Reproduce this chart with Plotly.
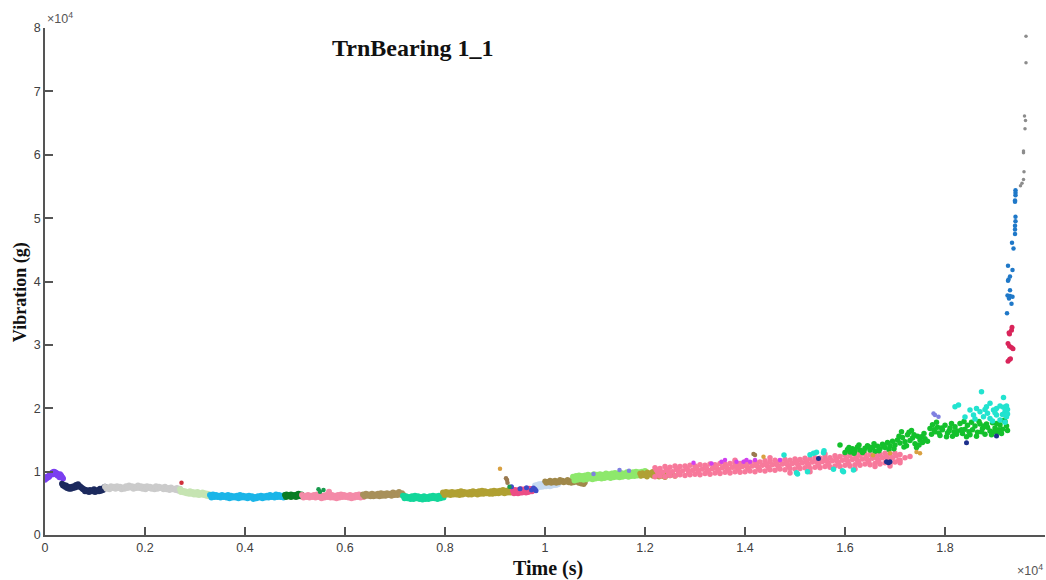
import plotly.graph_objects as go

# ---------------- data (time in s, vibration in g) ----------------
PURPLE_X = [0, 20, 40, 60, 80, 100, 120, 140, 160, 180, 200, 220, 240, 260, 280, 300, 320, 340, 360,
            10, 50, 90, 130, 170, 210, 250, 290, 330]
PURPLE_Y = [8700, 8900, 9000, 9100, 9200, 9400, 9600, 9800, 9900, 10000, 9900, 9800, 9700, 9500, 9300, 9600, 9400, 9100, 8900,
            9100, 9200, 9500, 9700, 9600, 9700, 9400, 9100, 9200]

NAVY_X = [340, 380, 420, 460, 500, 540, 580, 620, 660, 700, 740, 780, 820, 860, 900, 940, 980, 1020, 1060, 1100, 1140, 1180, 1200,
          360, 400, 440, 480, 520, 560, 600, 640, 680, 720, 760, 800, 840, 880, 920, 960, 1000, 1040, 1080, 1120, 1160]
NAVY_Y = [8100, 7900, 7800, 7600, 7500, 7600, 7700, 7900, 8000, 7700, 7400, 7200, 7100, 7000, 7100, 7000, 7200, 7000, 7100, 7300, 7200, 7500, 7600,
          7800, 7600, 7400, 7300, 7300, 7400, 7500, 7600, 7700, 7500, 7200, 6900, 6900, 6800, 6900, 6900, 6800, 6900, 6900, 7000, 7100]

GRAY_X = [1200, 1260, 1320, 1380, 1440, 1500, 1560, 1620, 1680, 1740, 1800, 1860, 1920, 1980, 2040, 2100, 2160, 2220, 2280, 2340, 2400, 2460, 2520, 2580, 2640, 2700,
          1230, 1290, 1350, 1410, 1470, 1530, 1590, 1650, 1710, 1770, 1830, 1890, 1950, 2010, 2070, 2130, 2190, 2250, 2310, 2370, 2430, 2490, 2550, 2610, 2670]
GRAY_Y = [7600, 7500, 7700, 7600, 7700, 7600, 7500, 7700, 7800, 7700, 7600, 7800, 7700, 7600, 7700, 7600, 7500, 7700, 7600, 7500, 7600, 7400, 7500, 7300, 7400, 7300,
          7300, 7200, 7400, 7300, 7400, 7200, 7300, 7400, 7500, 7300, 7400, 7400, 7300, 7200, 7400, 7300, 7200, 7300, 7400, 7200, 7200, 7100, 7200, 7100, 7000]

PALEGREEN_X = [2700, 2750, 2800, 2850, 2900, 2950, 3000, 3050, 3100, 3150, 3200, 3250, 3300,
               2720, 2780, 2830, 2880, 2930, 2980, 3030, 3080, 3130, 3180, 3230, 3280]
PALEGREEN_Y = [7200, 7000, 6900, 6800, 6900, 6800, 6700, 6800, 6600, 6700, 6600, 6500, 6400,
               6800, 6700, 6600, 6500, 6500, 6400, 6400, 6300, 6400, 6300, 6200, 6100]

SKY_X = [3300, 3360, 3420, 3480, 3540, 3600, 3660, 3720, 3780, 3840, 3900, 3960, 4020, 4080, 4140, 4200, 4260, 4320, 4380, 4440, 4500, 4560, 4620, 4680, 4740, 4800,
         3330, 3390, 3450, 3510, 3570, 3630, 3690, 3750, 3810, 3870, 3930, 3990, 4050, 4110, 4170, 4230, 4290, 4350, 4410, 4470, 4530, 4590, 4650, 4710, 4770]
SKY_Y = [6300, 6400, 6300, 6200, 6300, 6200, 6300, 6200, 6100, 6200, 6300, 6200, 6100, 6200, 6100, 6000, 6100, 6200, 6100, 6200, 6300, 6200, 6400, 6300, 6200, 6300,
         5900, 6000, 6000, 5900, 6000, 5900, 5800, 5900, 5900, 5800, 5900, 5900, 5800, 5900, 5700, 5800, 5900, 5800, 5900, 5900, 6000, 5900, 6000, 6000, 5900]

DKGREEN_X = [4800, 4830, 4860, 4890, 4920, 4950, 4980, 5010, 5040, 5070, 5100, 5130, 4820, 4870, 4920, 4970, 5020, 5070, 5120]
DKGREEN_Y = [6300, 6400, 6200, 6300, 6400, 6300, 6200, 6300, 6400, 6500, 6300, 6400, 6000, 6100, 6000, 6100, 6000, 6100, 6100]

PINK1_X = [5140, 5200, 5260, 5320, 5380, 5440, 5500, 5560, 5620, 5680, 5740, 5800, 5860, 5920, 5980, 6040, 6100, 6160, 6220, 6280, 6340,
           5170, 5230, 5290, 5350, 5410, 5470, 5530, 5590, 5650, 5710, 5770, 5830, 5890, 5950, 6010, 6070, 6130, 6190, 6250, 6310, 6370, 5680]
PINK1_Y = [6300, 6200, 6300, 6200, 6300, 6400, 6300, 6200, 6300, 6200, 6300, 6200, 6300, 6400, 6300, 6200, 6300, 6200, 6300, 6400, 6300,
           5900, 6000, 5900, 6000, 5900, 6000, 5800, 5900, 6000, 5900, 5900, 5800, 5900, 6000, 6000, 5900, 5800, 5900, 6000, 5900, 6000, 6830]

OLIVEBROWN_X = [6360, 6420, 6480, 6540, 6600, 6660, 6720, 6780, 6840, 6900, 6960, 7020, 7080, 7140,
                6390, 6450, 6510, 6570, 6630, 6690, 6750, 6810, 6870, 6930, 6990, 7050, 7110, 7170]
OLIVEBROWN_Y = [6400, 6500, 6400, 6500, 6400, 6500, 6600, 6500, 6600, 6500, 6700, 6600, 6800, 6600,
                6100, 6200, 6100, 6100, 6200, 6100, 6200, 6200, 6300, 6200, 6300, 6300, 6400, 6300]

TEAL_X = [7160, 7220, 7280, 7340, 7400, 7460, 7520, 7580, 7640, 7700, 7760, 7820, 7880, 7940,
          7190, 7250, 7310, 7370, 7430, 7490, 7550, 7610, 7670, 7730, 7790, 7850, 7910, 7970]
TEAL_Y = [6200, 6100, 6000, 6100, 6200, 6100, 6000, 6100, 6000, 6100, 6200, 6100, 6200, 6200,
          5800, 5800, 5700, 5700, 5800, 5700, 5600, 5700, 5700, 5800, 5800, 5700, 5800, 5900]

OLIVE_X = [7960, 8020, 8080, 8140, 8200, 8260, 8320, 8380, 8440, 8500, 8560, 8620, 8680, 8740, 8800, 8860, 8920, 8980, 9040, 9100, 9160, 9220, 9280, 9340,
           7990, 8050, 8110, 8170, 8230, 8290, 8350, 8410, 8470, 8530, 8590, 8650, 8710, 8770, 8830, 8890, 8950, 9010, 9070, 9130, 9190, 9250, 9310, 9370]
OLIVE_Y = [6700, 6800, 6700, 6800, 6700, 6800, 6900, 6800, 6700, 6800, 6900, 6800, 6900, 7000, 6900, 6800, 6900, 7000, 6900, 7000, 7100, 7000, 7100, 7200,
           6300, 6400, 6300, 6400, 6400, 6300, 6400, 6500, 6400, 6400, 6500, 6400, 6500, 6500, 6600, 6500, 6500, 6600, 6600, 6700, 6600, 6700, 6700, 6800]

PINKRED_X = [9360, 9400, 9440, 9480, 9520, 9560, 9600, 9640, 9680, 9720, 9760, 9380, 9420, 9460, 9500, 9540, 9580, 9620, 9660, 9700, 9740]
PINKRED_Y = [7000, 7100, 7000, 7100, 7200, 7100, 7200, 7100, 7300, 7200, 7300, 6600, 6700, 6600, 6700, 6700, 6800, 6700, 6800, 6900, 6900]

PALEBLUE_X = [9800, 9840, 9880, 9920, 9960, 10000, 10040, 10080, 10120, 10160, 10200, 10240, 10280,
              9820, 9860, 9900, 9940, 9980, 10020, 10060, 10100, 10140, 10180, 10220, 10260]
PALEBLUE_Y = [7800, 7900, 8000, 8000, 8100, 8000, 8100, 8200, 8100, 8200, 8300, 8200, 8300,
              7400, 7500, 7600, 7600, 7700, 7700, 7800, 7700, 7800, 7900, 7900, 8000]

BROWN_X = [10000, 10050, 10100, 10150, 10200, 10250, 10300, 10350, 10400, 10450, 10500, 10550, 10600, 10650, 10700, 10750, 10800,
           10025, 10075, 10125, 10175, 10225, 10275, 10325, 10375, 10425, 10475, 10525, 10575, 10625, 10675, 10725, 10775]
BROWN_Y = [8500, 8400, 8600, 8500, 8600, 8500, 8700, 8600, 8500, 8700, 8600, 8700, 8800, 8600, 8500, 8400, 8300,
           8200, 8300, 8200, 8300, 8200, 8300, 8400, 8300, 8400, 8300, 8200, 8300, 8400, 8200, 8100, 8000]

LTGREEN_X = [10560, 10620, 10680, 10740, 10800, 10860, 10920, 10980, 11040, 11100, 11160, 11220, 11280, 11340, 11400, 11460, 11520, 11580, 11640, 11700, 11760, 11820, 11880, 11940, 12000,
             10590, 10650, 10710, 10770, 10830, 10890, 10950, 11010, 11070, 11130, 11190, 11250, 11310, 11370, 11430, 11490, 11550, 11610, 11670, 11730, 11790, 11850, 11910, 11970, 12030,
             10620, 10740, 10860, 10980, 11100, 11220, 11340, 11460, 11580, 11700, 11820, 11940]
LTGREEN_Y = [9200, 9300, 9400, 9300, 9400, 9500, 9400, 9600, 9500, 9600, 9500, 9700, 9600, 9700, 9800, 9700, 9800, 9700, 9900, 9800, 9900, 10000, 9900, 10000, 10100,
             8600, 8700, 8800, 8700, 8800, 8900, 8800, 8900, 9000, 8900, 9000, 9100, 9000, 9100, 9200, 9100, 9200, 9300, 9200, 9300, 9300, 9400, 9400, 9500, 9500,
             9000, 9100, 9200, 9200, 9300, 9300, 9400, 9500, 9500, 9600, 9600, 9700]

OLIVE2_X = [11900, 11950, 12000, 12050, 12100, 12150, 12200, 12250, 12300, 12350, 12400, 12450, 12500, 12550, 12600,
            11920, 11980, 12040, 12100, 12160, 12220, 12280, 12340, 12400]
OLIVE2_Y = [9700, 9800, 9600, 9900, 9700, 10000, 9800, 9500, 9700, 9400, 9600, 9500, 9400, 9600, 9300,
            9300, 9400, 9200, 9500, 9300, 9400, 9200, 9300, 9100]

PINKBIG_X = [12200, 12300, 12400, 12500, 12600, 12700, 12800, 12900, 13000, 13100, 13200, 13300, 13400, 13500, 13600, 13700, 13800, 13900, 14000, 14100,
             14200, 14300, 14400, 14500, 14600, 14700, 14800, 14900, 15000, 15100, 15200, 15300, 15400, 15500, 15600, 15700, 15800, 15900, 16000, 16100,
             16200, 16300, 16400, 16500, 16600, 16700, 16800, 16900, 17000, 17100,
             12250, 12350, 12450, 12550, 12650, 12750, 12850, 12950, 13050, 13150, 13250, 13350, 13450, 13550, 13650, 13750, 13850, 13950, 14050, 14150,
             14250, 14350, 14450, 14550, 14650, 14750, 14850, 14950, 15050, 15150, 15250, 15350, 15450, 15550, 15650, 15750, 15850, 15950, 16050, 16150,
             16250, 16350, 16450, 16550, 16650, 16750, 16850, 16950,
             12200, 12300, 12400, 12500, 12600, 12700, 12800, 12900, 13000, 13100, 13200, 13300, 13400, 13500, 13600, 13700, 13800, 13900, 14000, 14100,
             14200, 14300, 14400, 14500, 14600, 14700, 14800, 14900, 15000, 15100, 15200, 15300, 15400, 15500, 15600, 15700, 15800, 15900, 16000, 16100,
             16200, 16300, 16400, 16500, 16600, 16700, 16800, 16900, 17000, 17100,
             12225, 12425, 12625, 12825, 13025, 13225, 13425, 13625, 13825, 14025, 14225, 14425, 14625, 14825, 15025, 15225, 15425, 15625, 15825, 16025,
             16225, 16425, 16625, 16825, 17025,
             12275, 12475, 12675, 12875, 13075, 13275, 13475, 13675, 13875, 14075, 14275, 14475, 14675, 14875, 15075, 15275, 15475, 15675, 15875, 16075,
             16275, 16475, 16675, 16875, 17075,
             13800, 14500, 15600, 16300, 14900, 15300, 16200, 16600, 16900, 17200, 17300, 17100]
PINKBIG_Y = [10600, 10500, 10800, 10700, 10900, 10800, 10900, 11000, 10900, 11100, 11000, 11200, 11100, 11300, 11200, 11300, 11400, 11300, 11500, 11400,
             11600, 11500, 11700, 11600, 11800, 11700, 11900, 11800, 12000, 11900, 12100, 12000, 12200, 12100, 12300, 12200, 12500, 12400, 12600, 12500,
             12700, 12600, 12800, 12700, 12800, 12700, 12900, 12800, 12900, 12700,
             10000, 9900, 10100, 10000, 10200, 10100, 10300, 10200, 10300, 10400, 10300, 10500, 10400, 10600, 10500, 10700, 10600, 10800, 10700, 10900,
             10800, 11000, 10900, 11100, 11000, 11200, 11100, 11300, 11200, 11400, 11300, 11500, 11400, 11600, 11500, 11700, 11600, 11800, 11700, 11900,
             11800, 12000, 11900, 12100, 12000, 12200, 12100, 12200,
             9200, 9300, 9200, 9400, 9300, 9500, 9400, 9500, 9600, 9500, 9700, 9600, 9800, 9700, 9900, 9800, 10000, 9900, 10000, 10100,
             10000, 10200, 10100, 10300, 10200, 10400, 10300, 10500, 10400, 10500, 10600, 10500, 10700, 10600, 10800, 10700, 10900, 10800, 11000, 10900,
             11100, 11000, 11200, 11100, 11300, 11200, 11400, 11300, 11500, 11400,
             10300, 10300, 10500, 10500, 10700, 10700, 10900, 10800, 11000, 11100, 11200, 11200, 11400, 11400, 11600, 11600, 11800, 11800, 12000, 12000,
             12100, 12200, 12300, 12400, 12500,
             9600, 9650, 9800, 9850, 9950, 10050, 10150, 10200, 10350, 10400, 10500, 10600, 10700, 10750, 10850, 10950, 11050, 11150, 11250, 11300,
             11450, 11550, 11650, 11700, 11800,
             11800, 12200, 12800, 13000, 9800, 10000, 10400, 10800, 10900, 12200, 12400, 11800]

GREEN_PTS = [(15900, 14200), (16000, 13000), (16050, 13500), (16100, 13100), (16150, 13600), (16200, 13300), (16250, 13900), (16300, 13400),
             (16350, 13000), (16400, 13700), (16450, 14100), (16500, 13400), (16550, 13800), (16600, 13200), (16650, 14000), (16700, 13600),
             (16750, 14300), (16800, 13800), (16850, 14600), (16900, 14100), (16080, 13800), (16180, 12900), (16280, 14200), (16380, 13300),
             (16480, 13900), (16580, 14400), (16680, 13300), (16780, 14000), (16880, 13500),
             (16950, 14800), (17000, 14200), (17050, 15000), (17100, 14500), (17150, 15400), (17200, 14700), (17250, 15800), (17300, 14900),
             (17350, 15300), (17400, 14400), (17450, 15600), (17500, 15000), (17550, 14600), (17600, 15200), (17650, 14800), (16980, 13600),
             (17080, 15600), (17180, 13900), (17280, 16200), (17380, 15800), (17480, 14200), (17580, 16000), (17130, 16300), (17330, 16500),
             (17430, 13800), (17230, 14100), (17530, 15500),
             (17700, 16800), (17750, 17400), (17800, 16300), (17850, 17000), (17900, 15700), (17950, 16600), (18000, 17300), (18050, 16100),
             (18100, 16900), (18150, 15600), (18200, 17100), (18250, 16400), (18300, 17600), (18350, 16000), (18400, 16700), (18450, 17300),
             (18500, 15800), (18550, 16600), (18600, 17200), (18650, 16200), (18700, 17500), (18750, 16800), (18800, 15900), (18850, 17000),
             (18900, 16400), (18950, 17700), (19000, 16900), (19050, 16200), (19100, 17400), (19150, 16700), (19200, 17900), (19250, 16500),
             (17730, 15900), (17830, 17800), (17930, 16900), (18030, 15500), (18130, 17600), (18230, 15900), (18330, 16600), (18430, 15500),
             (18530, 17800), (18630, 15600), (18730, 16300), (18830, 17500), (18930, 15800), (19030, 17600), (19130, 16000), (19230, 17200),
             (17780, 16600), (18080, 16400), (18380, 17900), (18680, 17900), (18980, 16300), (19180, 18100), (17880, 16100), (18180, 16300),
             (18480, 16300), (18780, 17200), (19080, 16600)]

CYAN_PTS = [(18730, 22600), (19170, 21710), (18270, 20500), (18200, 20230), (18500, 19710), (18630, 19980), (18700, 19440), (18830, 20230),
            (18900, 20770), (18970, 19710), (19030, 19980), (19100, 20340), (19170, 20140), (19230, 20340), (19200, 19440), (18570, 18920),
            (18770, 18660), (18900, 18400), (19030, 18920), (19230, 18660), (19100, 18130), (18850, 19200), (19150, 19000), (18600, 18300),
            (19000, 19300), (19250, 19800), (18950, 18000), (19200, 17800), (18400, 18600), (18800, 19800), (19250, 19100),
            (14780, 12620), (15030, 9820), (15050, 9620), (15250, 9980), (15300, 12660), (15370, 12880), (15430, 13040), (15570, 12980),
            (15580, 13290), (15770, 10360), (15970, 9980), (16170, 10250), (15950, 10140)]

MAGENTA_PTS = [(12970, 11400), (13330, 11300), (13530, 11560), (13600, 11830), (13830, 11560), (13970, 11560), (14030, 11830),
               (14100, 11560), (14200, 11830), (14700, 11830)]
VIOLET_PTS = [(10970, 9620), (11490, 10250), (11680, 10140), (17770, 19190), (17800, 18920), (17870, 18660)]
NAVYDOT_PTS = [(16830, 11560), (16870, 11400), (16900, 11560), (18430, 14560), (19030, 15610), (15470, 12090)]
BLUEDOT_PTS = [(9330, 7620), (9500, 7300), (9630, 7460), (9730, 7100), (9800, 7200), (9770, 7400), (9820, 7000)]
ORANGE_PTS = [(9100, 10450), (16560, 12600), (16900, 12900), (17430, 13100), (17500, 12900), (14370, 12350)]
BROWNDOT_PTS = [(9220, 8940), (9240, 8670), (9250, 8250), (14170, 12770), (14200, 12620)]
GREENDOT_PTS = [(5470, 7200), (5500, 6830), (5570, 7100), (9290, 7620)]
REDDOT_PTS = [(2730, 8250)]

CRIMSON_PTS = [(19340, 32800), (19330, 32300), (19280, 31900), (19290, 31700), (19260, 30200), (19290, 29800), (19330, 29600),
               (19360, 29400), (19290, 27700), (19260, 27400), (19310, 27800)]
BLUESPIKE_PTS = [(19260, 40100), (19300, 38600), (19250, 37800), (19300, 37700), (19280, 37300), (19330, 36500), (19240, 35000),
                 (19260, 42500), (19350, 41800), (19300, 40800), (19270, 40300), (19350, 37600), (19340, 46100), (19370, 45200),
                 (19410, 50200), (19410, 49500), (19400, 48800), (19400, 48200), (19400, 47500), (19410, 54400), (19410, 54000),
                 (19410, 53600), (19400, 52800), (19400, 52600)]
GRAYSPIKE_PTS = [(19620, 78700), (19620, 74500), (19590, 66100), (19610, 65400), (19600, 64100), (19570, 60600), (19570, 60300),
                 (19580, 57300), (19570, 56100), (19540, 55500), (19510, 55100)]

X_TICKS = [0, 2000, 4000, 6000, 8000, 10000, 12000, 14000, 16000, 18000, 20000]
X_TICK_TEXT = ["0", "0.2", "0.4", "0.6", "0.8", "1", "1.2", "1.4", "1.6", "1.8", "2"]
Y_TICKS = [0, 10000, 20000, 30000, 40000, 50000, 60000, 70000, 80000]
Y_TICK_TEXT = ["0", "1", "2", "3", "4", "5", "6", "7", "8"]

# ---------------- figure ----------------
fig = go.Figure()


def add(xs, ys, color, size=5.5):
    fig.add_trace(go.Scatter(x=xs, y=ys, mode="markers",
                             marker=dict(color=color, size=size, line=dict(width=0)),
                             hoverinfo="x+y", showlegend=False))


def add_pts(pts, color, size=5):
    add([p[0] for p in pts], [p[1] for p in pts], color, size)


add(PURPLE_X, PURPLE_Y, "#7b3ff0", 6)
add(NAVY_X, NAVY_Y, "#1c2a5e", 6)
add(GRAY_X, GRAY_Y, "#cbcbcb", 6)
add(PALEGREEN_X, PALEGREEN_Y, "#c6e4b2", 6)
add(SKY_X, SKY_Y, "#1bb5e8", 6)
add(DKGREEN_X, DKGREEN_Y, "#0b7d25", 6)
add(PINK1_X, PINK1_Y, "#f48aa8", 6)
add(OLIVEBROWN_X, OLIVEBROWN_Y, "#a8905a", 6)
add(TEAL_X, TEAL_Y, "#13d69a", 6)
add(OLIVE_X, OLIVE_Y, "#b0a032", 6)
add(PINKRED_X, PINKRED_Y, "#ec4d86", 6)
add(PALEBLUE_X, PALEBLUE_Y, "#c6daf2", 6)
add(BROWN_X, BROWN_Y, "#a0884a", 5.5)
add(LTGREEN_X, LTGREEN_Y, "#8ee86c", 6)
add(OLIVE2_X, OLIVE2_Y, "#b0a035", 5.5)
add(PINKBIG_X, PINKBIG_Y, "#f7799b", 5.5)
add_pts(GREEN_PTS, "#14c02c", 5.5)
add_pts(CYAN_PTS, "#22e3cf", 5.5)
add_pts(MAGENTA_PTS, "#d040f0", 4.5)
add_pts(VIOLET_PTS, "#7f80e0", 4.5)
add_pts(NAVYDOT_PTS, "#1d2f8c", 5)
add_pts(BLUEDOT_PTS, "#3b4bc8", 5)
add_pts(ORANGE_PTS, "#d9a040", 4.5)
add_pts(BROWNDOT_PTS, "#9a7a50", 4.5)
add_pts(GREENDOT_PTS, "#179a4c", 4.5)
add_pts(REDDOT_PTS, "#d0303a", 4.5)
add_pts(CRIMSON_PTS, "#d9245a", 5)
add_pts(BLUESPIKE_PTS, "#1f78c8", 4.5)
add_pts(GRAYSPIKE_PTS, "#8c8c8c", 3.5)

axis_common = dict(showgrid=False, zeroline=False, showline=True, linecolor="#555555", linewidth=1.5,
                   ticks="inside", ticklen=8, tickwidth=1.5, tickcolor="#555555", mirror=False,
                   tickfont=dict(family="Liberation Sans, Arial, sans-serif", size=12.5, color="#404040"))

fig.update_layout(
    width=1046, height=580,
    margin=dict(l=45, r=1, t=28, b=45),
    paper_bgcolor="white", plot_bgcolor="white",
    xaxis=dict(range=[0, 20000], tickmode="array", tickvals=X_TICKS, ticktext=X_TICK_TEXT, **axis_common),
    yaxis=dict(range=[0, 80000], tickmode="array", tickvals=Y_TICKS, ticktext=Y_TICK_TEXT, **axis_common),
    showlegend=False,
)

serif_bold = dict(family="Liberation Serif, Times New Roman, serif", color="#111111")
fig.add_annotation(text="<b>TrnBearing 1_1</b>", xref="paper", yref="paper", x=0.368, y=0.96,
                   xanchor="center", yanchor="middle", showarrow=False, font=dict(size=24, **serif_bold))
fig.add_annotation(text="<b>Vibration (g)</b>", xref="paper", yref="paper", x=-0.025, y=0.479,
                   xanchor="center", yanchor="middle", textangle=-90, showarrow=False,
                   font=dict(size=18, **serif_bold))
fig.add_annotation(text="<b>Time (s)</b>", xref="paper", yref="paper", x=0.503, y=-0.067,
                   xanchor="center", yanchor="middle", showarrow=False, font=dict(size=20, **serif_bold))
exp_font = dict(family="Liberation Sans, Arial, sans-serif", size=12.5, color="#555555")
fig.add_annotation(text="×10<sup>4</sup>", xref="paper", yref="paper", x=0.0, y=1.0,
                   xanchor="left", yanchor="bottom", showarrow=False, font=exp_font)
fig.add_annotation(text="×10<sup>4</sup>", xref="paper", yref="paper", x=1.0, y=-0.07,
                   xanchor="right", yanchor="middle", showarrow=False, font=exp_font)

fig.write_html("out.html")
